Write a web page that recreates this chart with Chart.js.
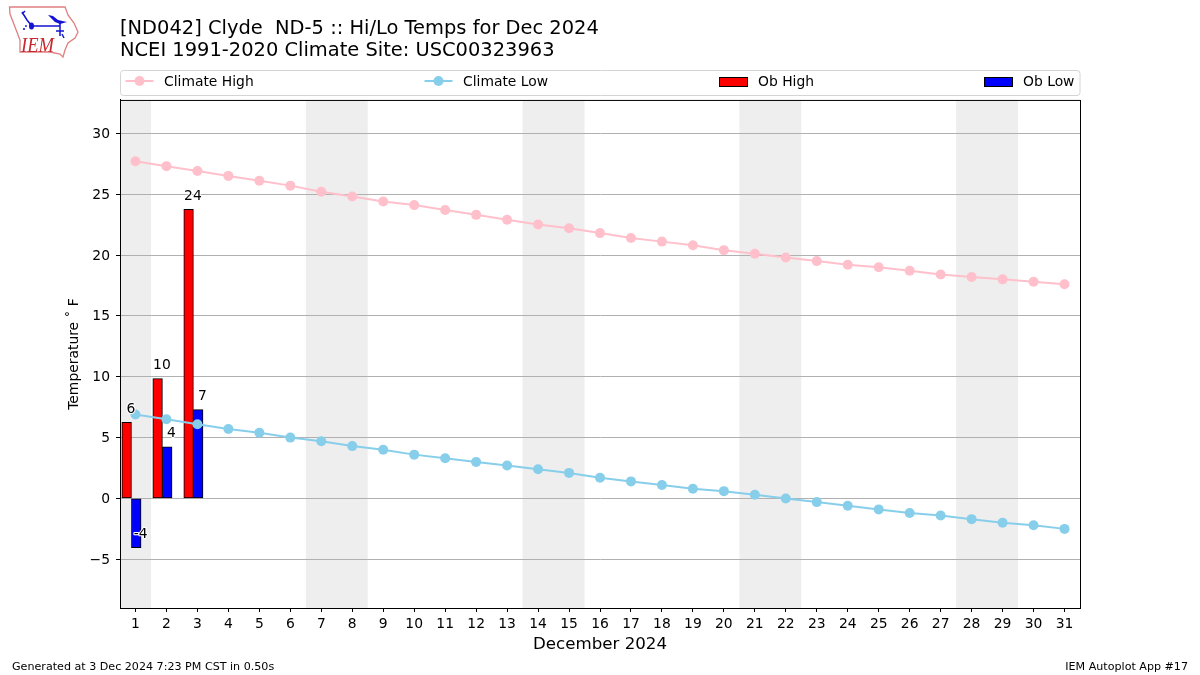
<!DOCTYPE html>
<html>
<head>
<meta charset="utf-8">
<title>Clyde ND-5 Hi/Lo Temps</title>
<script src="https://cdn.jsdelivr.net/npm/chart.js@4"></script>
<style>
body { margin: 0; background: #fff; }
#wrap { position: relative; width: 1200px; height: 675px; }
#logo { position: absolute; left: 0; top: 0; }
</style>
</head>
<body>
<div id="wrap">
<canvas id="tempChart" width="1200" height="675"></canvas>
<svg id="logo" width="120" height="70" viewBox="0 0 120 70">
  <path d="M9.5 7 L65 7 L68 15 L74 23 L78 32 L75 38 L68 43 L65 50 L63 57 L60 54 L50 52 L20 52 L20 40 L15 27 L10 14 Z" fill="#fff" stroke="#df7f7f" stroke-width="1.3"/>
  <path d="M22 12 L27 20 L31 25 M22 14 L25 11 M31 26 L60 26 M60 22 L60 36 M56 31 L64 31 M62 34 L64 38" fill="none" stroke="#1414d2" stroke-width="1.5"/>
  <path d="M48 15 L53 16 L58 20 L67 22 L60 24 L55 22 Z" fill="#1414d2"/>
  <ellipse cx="31.5" cy="26" rx="2.5" ry="3.5" fill="#1414d2"/>
  <circle cx="24" cy="29" r="1.1" fill="#1414d2"/>
  <circle cx="26" cy="26" r="0.9" fill="#1414d2"/>
  <text x="21" y="52" font-family="Liberation Serif" font-style="italic" font-size="21" textLength="33" lengthAdjust="spacingAndGlyphs" fill="#c8282d">IEM</text>
</svg>
</div>
<script>
const days = [1,2,3,4,5,6,7,8,9,10,11,12,13,14,15,16,17,18,19,20,21,22,23,24,25,26,27,28,29,30,31];
const climateHigh = [27.7,27.3,26.9,26.5,26.1,25.7,25.2,24.8,24.4,24.1,23.7,23.3,22.9,22.5,22.2,21.8,21.4,21.1,20.8,20.4,20.1,19.8,19.5,19.2,19.0,18.7,18.4,18.2,18.0,17.8,17.6];
const climateLow = [6.9,6.5,6.1,5.7,5.4,5.0,4.7,4.3,4.0,3.6,3.3,3.0,2.7,2.4,2.1,1.7,1.4,1.1,0.8,0.6,0.3,0.0,-0.3,-0.6,-0.9,-1.2,-1.4,-1.7,-2.0,-2.2,-2.5];
const obHigh = [6.25,9.85,23.75];
const obLow = [-4.05,4.25,7.3];
const weekends = [[0.5,1.5],[6.5,8.5],[13.5,15.5],[20.5,22.5],[27.5,29.5]];
const yTicks = [-5,0,5,10,15,20,25,30];

const titleLines = ['[ND042] Clyde  ND-5 :: Hi/Lo Temps for Dec 2024', 'NCEI 1991-2020 Climate Site: USC00323963'];
const footerLeft = 'Generated at 3 Dec 2024 7:23 PM CST in 0.50s';
const footerRight = 'IEM Autoplot App #17';

const FONT = 'DejaVu Sans';
const barShift = -0.13;

function points(values, shift) {
    return values.map((v, i) => ({x: days[i] + shift, y: v}));
}

// shaded weekends sit under the grid
const bands = {
    id: 'bands',
    beforeDraw(chart) {
        const {ctx, chartArea, scales} = chart;
        ctx.save();
        ctx.fillStyle = '#eeeeee';
        weekends.forEach(w => {
            const a = scales.x.getPixelForValue(w[0]);
            const b = scales.x.getPixelForValue(w[1]);
            ctx.fillRect(a, chartArea.top, b - a, chartArea.height);
        });
        ctx.restore();
    }
};

// rounded value over each bar, centred on the bar's right edge
const barLabels = {
    id: 'barLabels',
    afterDatasetsDraw(chart) {
        const ctx = chart.ctx;
        ctx.save();
        ctx.font = '13.89px "' + FONT + '"';
        ctx.textAlign = 'center';
        ctx.textBaseline = 'middle';
        ctx.lineJoin = 'round';
        chart.data.datasets.forEach((ds, d) => {
            if (ds.type !== 'bar') return;
            chart.getDatasetMeta(d).data.forEach((bar, i) => {
                const text = String(Math.round(ds.data[i].y));
                const x = bar.x + bar.width / 2 - 0.5;
                const y = chart.scales.y.getPixelForValue(ds.data[i].y) - 13;
                ctx.strokeStyle = '#fff';
                ctx.lineWidth = 2;
                ctx.strokeText(text, x, y);
                ctx.fillStyle = '#000';
                ctx.fillText(text, x, y);
            });
        });
        ctx.restore();
    }
};

// spread out legend, top/right spines, footer
const frame = {
    id: 'frame',
    afterDraw(chart) {
        const {ctx, chartArea} = chart;
        ctx.save();
        ctx.strokeStyle = '#000';
        ctx.lineWidth = 1;
        ctx.strokeRect(chartArea.left + 0.5, chartArea.top + 0.5, chartArea.width, chartArea.height);

        ctx.beginPath();
        ctx.roundRect(120.5, 70.5, 959.5, 25, 3);
        ctx.strokeStyle = '#d4d4d4';
        ctx.stroke();

        const legendX = [125.5, 424.5, 719.5, 984.5];
        const cy = 81;
        ctx.font = '13.89px "' + FONT + '"';
        ctx.textBaseline = 'middle';
        ctx.textAlign = 'left';
        chart.data.datasets.forEach((ds, i) => {
            const x = legendX[i];
            if (ds.type === 'line') {
                ctx.strokeStyle = ds.borderColor;
                ctx.lineWidth = 2;
                ctx.beginPath();
                ctx.moveTo(x, cy);
                ctx.lineTo(x + 28, cy);
                ctx.stroke();
                ctx.fillStyle = ds.borderColor;
                ctx.beginPath();
                ctx.arc(x + 14, cy, 5, 0, Math.PI * 2);
                ctx.fill();
            } else {
                ctx.fillStyle = ds.backgroundColor;
                ctx.fillRect(x, cy - 3.5, 28, 9);
                ctx.strokeStyle = '#000';
                ctx.lineWidth = 1;
                ctx.strokeRect(x, cy - 3.5, 28, 9);
            }
            ctx.fillStyle = '#000';
            ctx.fillText(ds.label, x + 38.5, cy + 1);
        });

        ctx.font = '11.11px "' + FONT + '"';
        ctx.fillText(footerLeft, 12, 667);
        ctx.textAlign = 'right';
        ctx.fillText(footerRight, 1188, 667);
        ctx.restore();
    }
};

new Chart(document.getElementById('tempChart').getContext('2d'), {
    data: {
        datasets: [
            {type: 'line', label: 'Climate High', data: points(climateHigh, 0), borderColor: '#ffc0cb', backgroundColor: '#ffc0cb', borderWidth: 2, pointRadius: 5, pointBorderWidth: 0, order: 0},
            {type: 'line', label: 'Climate Low', data: points(climateLow, 0), borderColor: '#87ceeb', backgroundColor: '#87ceeb', borderWidth: 2, pointRadius: 5, pointBorderWidth: 0, order: 0},
            {type: 'bar', label: 'Ob High', data: points(obHigh, barShift), backgroundColor: '#ff0000', borderColor: '#000', borderWidth: 1, borderSkipped: false, barThickness: 9.6, order: 1},
            {type: 'bar', label: 'Ob Low', data: points(obLow, barShift), backgroundColor: '#0000ff', borderColor: '#000', borderWidth: 1, borderSkipped: false, barThickness: 9.6, order: 1}
        ]
    },
    options: {
        responsive: false,
        animation: false,
        layout: {padding: {left: 66, right: 120, top: 0, bottom: 20}},
        plugins: {
            legend: {display: false},
            tooltip: {enabled: false},
            title: {
                display: true,
                text: titleLines,
                align: 'start',
                fullSize: false,
                color: '#000',
                font: {family: FONT, size: 19.44, weight: 'normal', lineHeight: 1.13},
                padding: {top: 18, bottom: 38}
            }
        },
        scales: {
            x: {
                type: 'linear',
                offset: false,
                min: 0.5,
                max: 31.5,
                grid: {offset: false, drawOnChartArea: false, tickColor: '#000', tickLength: 4},
                border: {color: '#000'},
                afterBuildTicks(scale) { scale.ticks = days.map(d => ({value: d})); },
                ticks: {autoSkip: false, maxRotation: 0, color: '#000', padding: 4, font: {family: FONT, size: 13.89}},
                title: {display: true, text: 'December 2024', color: '#000', font: {family: FONT, size: 16.67}, padding: 0},
                afterFit(scale) { scale.height = 47; }
            },
            y: {
                min: -9.0,
                max: 32.74,
                grid: {color: '#b0b0b0', lineWidth: 1, tickColor: '#000', tickLength: 4},
                border: {color: '#000'},
                afterBuildTicks(scale) { scale.ticks = yTicks.map(v => ({value: v})); },
                ticks: {color: '#000', padding: 6, labelOffset: 1, font: {family: FONT, size: 13.89}, callback: v => String(v).replace('-', '\u2212')},
                title: {display: true, text: 'Temperature \u02da F', color: '#000', font: {family: FONT, size: 13.89}, padding: 0},
                afterFit(scale) { scale.width = 54; }
            }
        }
    },
    plugins: [bands, barLabels, frame]
});
</script>
</body>
</html>
